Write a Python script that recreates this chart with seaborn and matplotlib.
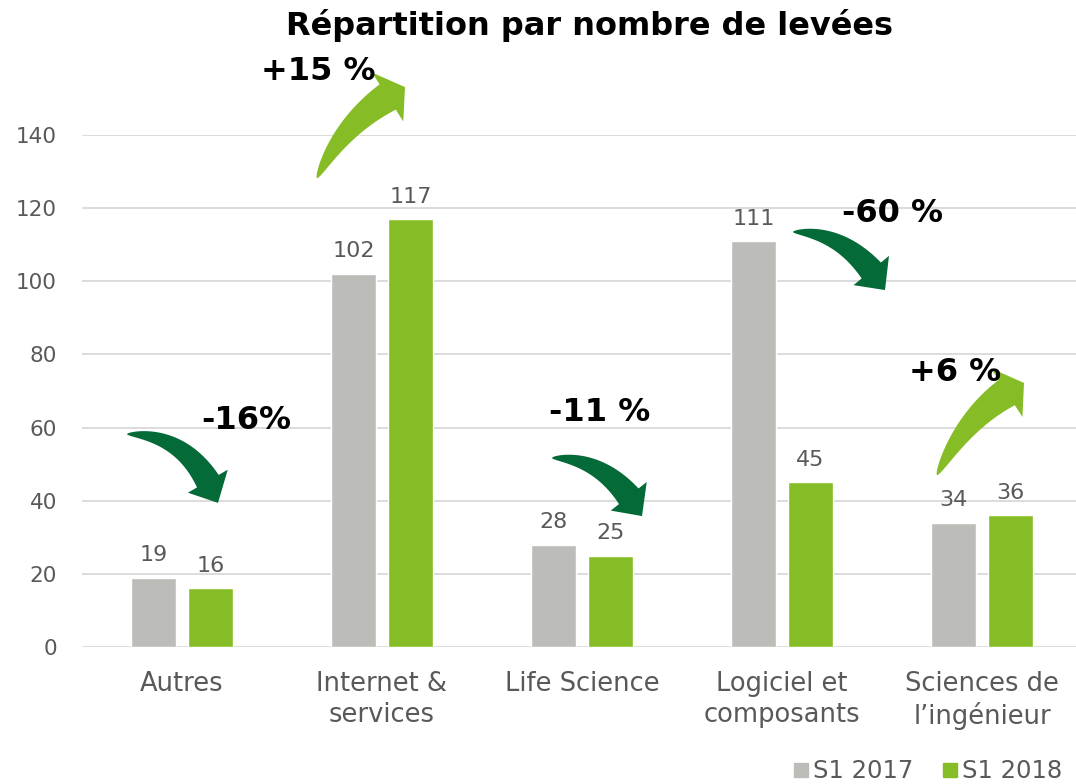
import numpy as np
import pandas as pd
import seaborn as sns
import matplotlib.pyplot as plt
from matplotlib.patches import Polygon
from matplotlib.lines import Line2D

# Data
categories = ["Autres", "Internet &\nservices", "Life Science",
              "Logiciel et\ncomposants", "Sciences de\nl\u2019ing\u00e9nieur"]
periods = ["S1 2017", "S1 2018"]
values_2017 = [19, 102, 28, 111, 34]
values_2018 = [16, 117, 25, 45, 36]
changes = ["-16%", "+15 %", "-11 %", "-60 %", "+6 %"]

grey = "#BCBDB8"
green = "#86BC25"
dark_green = "#046A38"
text_grey = "#595959"

df = pd.DataFrame({
    "cat": categories * 2,
    "period": [periods[0]] * 5 + [periods[1]] * 5,
    "val": values_2017 + values_2018,
})

sns.set_style("white")
plt.rcParams['font.family'] = ['DejaVu Sans']

fig = plt.figure(figsize=(10.76, 7.84), dpi=100)
ax = fig.add_axes([82 / 1076, 137 / 784, 994 / 1076, 512 / 784])

sns.barplot(data=df, x="cat", y="val", hue="period", palette=[grey, green],
            width=0.57, gap=0.21, ax=ax, legend=False, saturation=1)

ax.set_xlim(-0.5, -0.5 + 994 / 200)
ax.set_ylim(0, 140)
ax.set_yticks(range(0, 141, 20))
ax.yaxis.grid(True, color="#D9D9D9", lw=1.3)
ax.set_axisbelow(True)
for s in ax.spines.values():
    s.set_visible(False)
ax.tick_params(axis="y", length=0, pad=18, labelsize=15.5, labelcolor=text_grey)
ax.tick_params(axis="x", length=0, pad=17, labelsize=18.5, labelcolor=text_grey)
for lab in ax.get_xticklabels():
    lab.set_linespacing(1.25)
ax.set_xlabel("")
ax.set_ylabel("")

for cont in ax.containers:
    ax.bar_label(cont, padding=9, fontsize=16, color=text_grey)


def curved_arrow(ax, tail, ctrl, tip, head_len, head_w, body_w, color):
    # block arrow along a quadratic bezier, widths in pixels
    tr = ax.transData
    p0, c, p2 = [np.array(tr.transform(p)) for p in (tail, ctrl, tip)]
    t = np.linspace(0, 1, 400)[:, None]
    pts = (1 - t) ** 2 * p0 + 2 * (1 - t) * t * c + t ** 2 * p2
    d = np.linalg.norm(pts - p2, axis=1)
    nb = np.argmax(d < head_len)
    body = pts[:nb + 1]
    seg = np.gradient(body, axis=0)
    tang = seg / np.linalg.norm(seg, axis=1)[:, None]
    norm = np.column_stack([-tang[:, 1], tang[:, 0]])
    s = np.concatenate([[0], np.cumsum(np.linalg.norm(np.diff(body, axis=0), axis=1))])
    w = body_w / 2 * (s / s[-1]) ** 0.6
    left = body + norm * w[:, None]
    right = body - norm * w[:, None]
    base = body[-1]
    n = norm[-1]
    head = [base + n * head_w / 2, p2, base - n * head_w / 2]
    poly = np.vstack([left, head, right[::-1]])
    poly = tr.inverted().transform(poly)
    ax.add_patch(Polygon(poly, closed=True, color=color, lw=0,
                         clip_on=False, zorder=5))


# arrow geometry relative to category index: tail, control, tip
arrow_pos = [
    ((-0.275, 58.2), (0.05, 58.2), (0.18, 39.4)),
    ((-0.325, 128.2), (-0.18, 144.9), (0.115, 153.1)),
    ((-0.15, 51.7), (0.135, 51.7), (0.30, 35.8)),
    ((0.055, 113.5), (0.34, 113.5), (0.515, 97.6)),
    ((-0.225, 47.0), (-0.06, 65.1), (0.21, 72.2)),
]
text_pos = [(0.32, 62), (-0.32, 157.3), (0.09, 64), (0.555, 118.5), (-0.135, 75)]

for i, (chg, (tail, ctrl, tip), tp) in enumerate(zip(changes, arrow_pos, text_pos)):
    up = chg.startswith("+")
    sh = lambda p: (i + p[0], p[1])
    if up:
        curved_arrow(ax, sh(tail), sh(ctrl), sh(tip), 20, 58, 30, green)
    else:
        curved_arrow(ax, sh(tail), sh(ctrl), sh(tip), 24, 46, 25, dark_green)
    ax.text(i + tp[0], tp[1], chg, ha="center", va="center", fontsize=23,
            fontweight="bold", color="black", zorder=6, clip_on=False)

fig.text(590 / 1076, 1 - 25 / 784, "R\u00e9partition par nombre de lev\u00e9es",
         ha="center", va="center", fontsize=23, fontweight="bold", color="black")

handles = [Line2D([], [], marker="s", ls="", color=grey, markersize=10),
           Line2D([], [], marker="s", ls="", color=green, markersize=10)]
fig.legend(handles, periods, loc="lower right", bbox_to_anchor=(1.0074, -0.027),
           ncol=2, frameon=False, fontsize=17.5, labelcolor=text_grey,
           handlelength=0.7, handletextpad=0.15, columnspacing=1.15)

fig.savefig("out.png", dpi=100)
